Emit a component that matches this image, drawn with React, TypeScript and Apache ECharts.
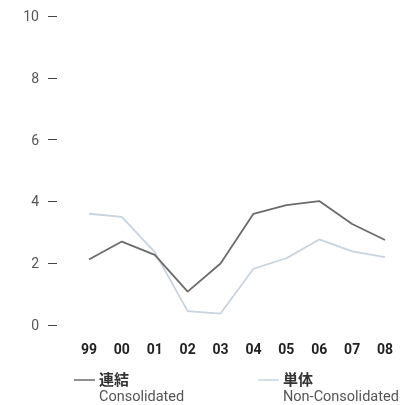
import React, { useEffect, useRef } from "react";
import * as echarts from "echarts";

const categories = ["99", "00", "01", "02", "03", "04", "05", "06", "07", "08"];
const consolidated = [2.12, 2.7, 2.27, 1.08, 1.99, 3.6, 3.88, 4.01, 3.27, 2.75];
const nonConsolidated = [3.6, 3.5, 2.36, 0.45, 0.37, 1.82, 2.16, 2.77, 2.38, 2.2];
const yTicks = [0, 2, 4, 6, 8, 10];
const legendItems = [
  { ja: "連結", en: "Consolidated", color: "#6b6b6b" },
  { ja: "単体", en: "Non-Consolidated", color: "#c8d3de" },
];

export default function App() {
  const ref = useRef<HTMLDivElement>(null);
  useEffect(() => {
    const chart = echarts.init(ref.current!, null, { renderer: "svg" });
    const font = "Roboto, 'Noto Sans CJK JP', sans-serif";
    const legendX = [74, 258];
    const graphic: any[] = [];
    legendItems.forEach((it, i) => {
      const x = legendX[i];
      graphic.push({
        type: "line",
        shape: { x1: x, y1: 380, x2: x + 21, y2: 380 },
        style: { stroke: it.color, lineWidth: 1.5 },
      });
      graphic.push({
        type: "text",
        x: x + 25,
        y: 380,
        style: {
          text: it.ja,
          font: `bold 15px ${font}`,
          fill: "#333",
          textVerticalAlign: "middle",
        },
      });
      graphic.push({
        type: "text",
        x: x + 25,
        y: 396,
        style: {
          text: it.en,
          font: `14.5px ${font}`,
          fill: "#555",
          textVerticalAlign: "middle",
        },
      });
    });
    chart.setOption({
      animation: false,
      grid: { left: 72.5, right: 15.5, top: 16, bottom: 80 },
      xAxis: {
        type: "category",
        data: categories,
        boundaryGap: true,
        axisLine: { show: false },
        axisTick: { show: false },
        axisLabel: {
          margin: 17,
          color: "#222",
          fontWeight: "bold",
          fontSize: 14,
          fontFamily: font,
        },
      },
      yAxis: {
        type: "value",
        min: yTicks[0],
        max: yTicks[yTicks.length - 1],
        interval: 2,
        offset: 15.5,
        splitLine: { show: false },
        axisLine: { show: false },
        axisTick: { show: true, length: 9, lineStyle: { color: "#444", width: 1 } },
        axisLabel: {
          margin: 18,
          color: "#555",
          fontSize: 14,
          fontFamily: font,
        },
      },
      series: [
        {
          name: legendItems[1].en,
          type: "line",
          data: nonConsolidated,
          symbol: "none",
          lineStyle: { color: legendItems[1].color, width: 1.8 },
        },
        {
          name: legendItems[0].en,
          type: "line",
          data: consolidated,
          symbol: "none",
          lineStyle: { color: legendItems[0].color, width: 1.8 },
        },
      ],
      graphic,
    });
    return () => chart.dispose();
  }, []);
  return <div ref={ref} style={{ width: 417, height: 405, position: "fixed", left: 0, top: 0 }} />;
}
